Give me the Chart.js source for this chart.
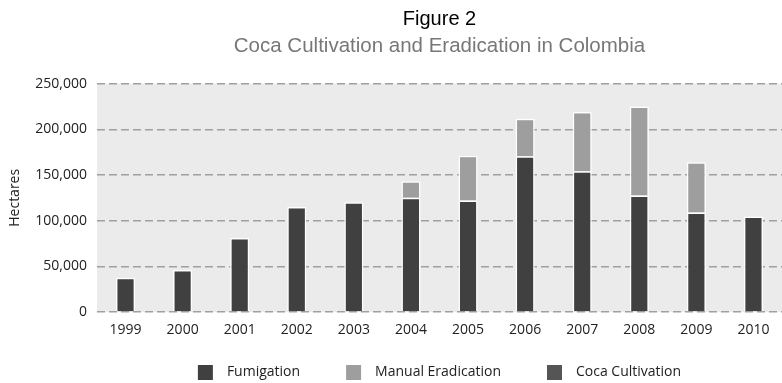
<!DOCTYPE html>
<html>
<head>
<meta charset="utf-8">
<script src="https://cdn.jsdelivr.net/npm/chart.js@4"></script>
<style>
  html, body { margin: 0; padding: 0; background: #ffffff; }
  #wrap { width: 782px; height: 383px; position: relative; }
</style>
</head>
<body>
<div id="wrap"><canvas id="c" width="782" height="383"></canvas></div>
<script>
const years = ['1999','2000','2001','2002','2003','2004','2005','2006','2007','2008','2009','2010'];
const fumigation = [37500, 46000, 81000, 115000, 120000, 125000, 122000, 170500, 154000, 127500, 109000, 104500];
const manualEradication = [null, null, null, null, null, 18000, 49000, 41000, 65000, 97500, 55000, null];
const cocaCultivation = [];
const yTicks = [0, 50000, 100000, 150000, 200000, 250000];

const plotBg = {
  id: 'plotBg',
  beforeDraw(chart) {
    const {ctx, chartArea: a} = chart;
    ctx.save();
    ctx.fillStyle = '#ebebeb';
    ctx.fillRect(a.left, a.top, a.right - a.left, a.bottom - a.top);
    ctx.restore();
  }
};

const FONT = "'Open Sans', 'Liberation Sans', sans-serif";

new Chart(document.getElementById('c'), {
  type: 'bar',
  data: {
    labels: years,
    datasets: [
      { label: 'Fumigation', data: fumigation, backgroundColor: '#404040', borderColor: '#ffffff', borderWidth: 1.5, stack: 's' },
      { label: 'Manual Eradication', data: manualEradication, backgroundColor: '#9e9e9e', borderColor: '#ffffff', borderWidth: 1.5, stack: 's' },
      { label: 'Coca Cultivation', data: cocaCultivation, backgroundColor: '#555555', borderColor: '#ffffff', borderWidth: 1.5, stack: 's' }
    ]
  },
  options: {
    responsive: false,
    animation: false,
    devicePixelRatio: 1,
    barPercentage: 0.335,
    categoryPercentage: 1,
    layout: { padding: { left: 0, right: 0, top: 0, bottom: -7 } },
    scales: {
      x: {
        stacked: true,
        grid: { display: false },
        border: { display: false },
        ticks: { color: '#222', font: { family: FONT, size: 14 }, padding: 2, maxRotation: 0 },
        afterFit: (s) => { s.height = 49; }
      },
      y: {
        stacked: true,
        min: 0,
        max: 250000,
        afterBuildTicks: (s) => { s.ticks = yTicks.map(v => ({ value: v })); },
        grid: { color: '#a0a0a0', lineWidth: 1.5, drawTicks: false },
        border: { display: false, dash: [8, 4] },
        ticks: {
          color: '#222',
          font: { family: FONT, size: 14 },
          padding: 10,
          callback: (v) => Number(v).toLocaleString('en-US')
        },
        title: { display: true, text: 'Hectares', color: '#222', font: { family: FONT, size: 14 }, padding: { top: 7, bottom: 0 } },
        afterFit: (s) => { s.width = 97; }
      }
    },
    plugins: {
      title: {
        display: true,
        text: 'Figure 2',
        color: '#000',
        fullSize: false,
        font: { family: "'Liberation Sans', Arial, sans-serif", size: 20, weight: 'normal' },
        padding: { top: 7, bottom: 3 }
      },
      subtitle: {
        display: true,
        text: 'Coca Cultivation and Eradication in Colombia',
        color: '#777',
        fullSize: false,
        font: { family: "'Liberation Sans', Arial, sans-serif", size: 20.5, weight: 'normal' },
        padding: { top: 0, bottom: 25 }
      },
      legend: {
        position: 'bottom',
        fullSize: false,
        labels: {
          color: '#222',
          font: { family: FONT, size: 14 },
          boxWidth: 15,
          boxHeight: 15,
          padding: 4,
          generateLabels: (chart) => {
            const items = Chart.defaults.plugins.legend.labels.generateLabels(chart);
            return items.map((it, i) => {
              it.text = '\u2002' + it.text + (i < items.length - 1 ? '\u2003\u2003\u2003' : '');
              it.lineWidth = 0;
              it.strokeStyle = 'rgba(0,0,0,0)';
              return it;
            });
          }
        }
      },
      tooltip: { enabled: false }
    }
  },
  plugins: [plotBg]
});
</script>
</body>
</html>
